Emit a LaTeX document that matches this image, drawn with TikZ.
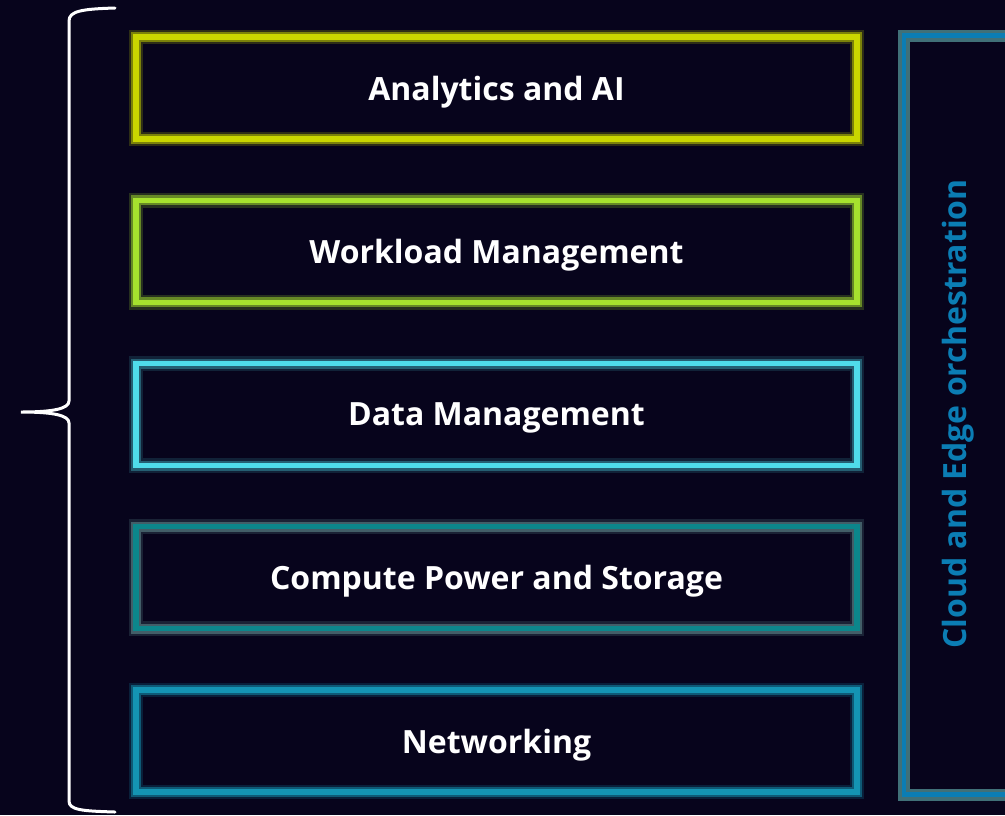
\documentclass[tikz,border=0pt]{standalone}
\usepackage{fontspec}
\setmainfont{Open Sans}
\usepackage{xcolor}
\usepackage{tikz}
\usetikzlibrary{positioning}
\definecolor{nightbg}{HTML}{07041C}
\definecolor{aiyellow}{HTML}{C9D600}
\definecolor{wlgreen}{HTML}{A6E22E}
\definecolor{dmcyan}{HTML}{4FDBEA}
\definecolor{cpteal}{HTML}{0C868B}
\definecolor{cpglow}{HTML}{6A9A9C}
\definecolor{nwblue}{HTML}{1494B3}
\definecolor{orchblue}{HTML}{0B7DB4}
\definecolor{orchglow}{HTML}{4F8C90}

\begin{document}
\begin{tikzpicture}[x=0.75pt,y=-0.75pt,node distance=45.94pt,
    layer/.style 2 args={draw=#1,line width=4pt,outer sep=0pt,
      preaction={draw=#2,line width=11pt,draw opacity=.2},
      preaction={draw=#2,line width=7.5pt,draw opacity=.5},
      minimum width=540.75pt,minimum height=76.5pt,text depth=0pt,
      text=white,font=\fontsize{24}{28}\selectfont\bfseries}]
  \useasboundingbox[fill=nightbg] (0,0) rectangle (1005,815);
  % stack of layers
  \node[layer={aiyellow}{aiyellow}] (ai) at (496.5,88) {Analytics and AI};
  \node[layer={wlgreen}{wlgreen},below=of ai] (wl) {Workload Management};
  \node[layer={dmcyan}{dmcyan!70!nightbg},below=of wl] (dm) {Data Management};
  \node[layer={cpteal}{cpglow},below=of dm] (cp) {Compute Power and Storage};
  \node[layer={nwblue}{nwblue},below=of cp] (nw) {Networking};
  % orchestration column
  \node[draw=orchblue,line width=3.5pt,outer sep=0pt,
    preaction={draw=orchglow,line width=9pt,draw opacity=.8},
    minimum width=90pt,minimum height=569.25pt,anchor=north west] (orch) at (904,35.5) {};
  \node[rotate=90,text=orchblue,font=\fontsize{24}{28}\selectfont\bfseries] (orchtext) at (958,414) {Cloud and Edge orchestration};
  % brace
  \draw[white,line width=2.25pt,line cap=round]
    (115,8) .. controls (82,9) and (69,11) .. (69,21) -- (69,401)
    .. controls (69,409) and (52,412) .. (21,412)
    .. controls (52,412) and (69,415) .. (69,423) -- (69,801)
    .. controls (69,810) and (82,811) .. (115,812);
\end{tikzpicture}
\end{document}
